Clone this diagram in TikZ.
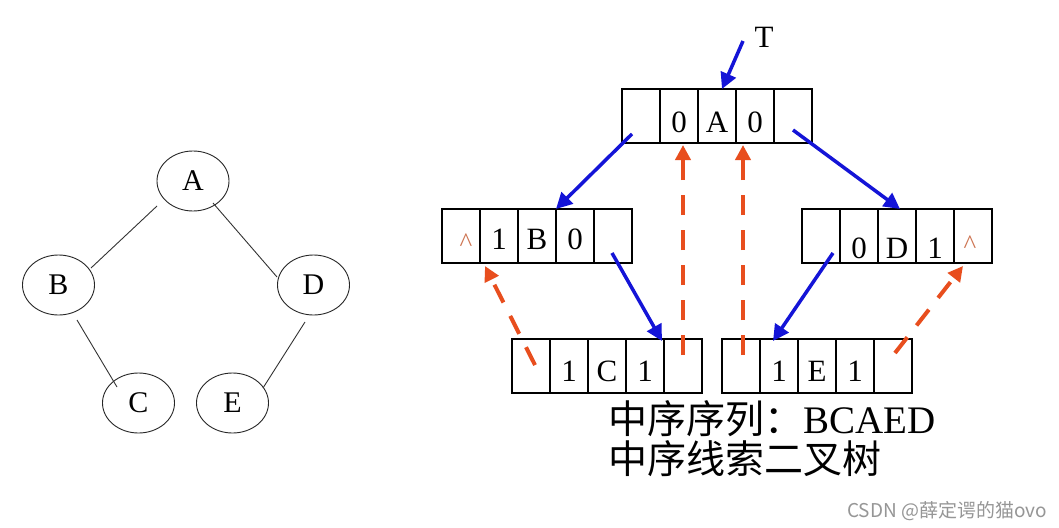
\documentclass[tikz,border=0pt]{standalone}
\usepackage{fontspec}
\setmainfont{Liberation Serif}
\newfontfamily\cjk{Noto Sans CJK SC}
\usetikzlibrary{shapes.geometric,arrows.meta,calc}
\definecolor{ablue}{RGB}{20,20,215}
\definecolor{ared}{RGB}{232,78,30}
\definecolor{acaret}{RGB}{205,115,80}
\definecolor{wmgray}{RGB}{150,150,150}
\begin{document}
\begin{tikzpicture}[x=1pt,y=-1pt,
  every node/.style={inner sep=0pt, outer sep=0pt},
  treenode/.style={draw=black!85, line width=0.9pt, ellipse, minimum width=72pt, minimum height=60pt, font=\fontsize{30}{30}\selectfont},
  treeedge/.style={draw=black!80, line width=0.9pt},
  cell/.style={draw, line width=1.1pt, minimum width=38pt, minimum height=54pt, font=\fontsize{31}{31}\selectfont, text height=#1, text depth=0pt},
  cell/.default=30pt,
  caret/.style={text=acaret, font=\fontsize{27}{27}\selectfont},
  bluearrow/.style={draw=ablue, line width=3.5pt, -{Triangle[length=16pt,width=16pt]}},
  redarrow/.style={draw=ared, line width=4pt, dash pattern=on 20pt off 15pt, -{Triangle[length=15pt,width=15pt]}}
]
\fill[white] (0,0) rectangle (1059,527);
\useasboundingbox (0,0) rectangle (1059,527);

% left tree
\node[treenode] (TA) at (193,181) {A};
\node[treenode] (TB) at (58.5,285) {B};
\node[treenode] (TD) at (313.5,285) {D};
\node[treenode] (TC) at (138.5,403) {C};
\node[treenode] (TE) at (232.5,403) {E};
\draw[treeedge] ($(TA)+(-36,25)$) -- ($(TB)+(32.5,-17)$);
\draw[treeedge] ($(TA)+(20,22)$) -- ($(TD)+(-36.5,-8)$);
\draw[treeedge] ($(TB)+(18.5,35)$) -- ($(TC)+(-21.5,-16)$);
\draw[treeedge] ($(TD)+(-8.5,37)$) -- ($(TE)+(30.5,-15)$);

% top record
\node[cell=32pt] (A1) at (641,116) {};
\node[cell=32pt] (A2) at (679,116) {0};
\node[cell=32pt] (A3) at (717,116) {A};
\node[cell=32pt] (A4) at (755,116) {0};
\node[cell=32pt] (A5) at (793,116) {};
% B record
\node[cell=26pt] (B1) at (461,236) {};
\node[cell=26pt] (B2) at (499,236) {1};
\node[cell=26pt] (B3) at (537,236) {B};
\node[cell=26pt] (B4) at (575,236) {0};
\node[cell=26pt] (B5) at (613,236) {};
\node[caret] (cB) at (466,243) {\textasciicircum};
% D record
\node[cell=44pt] (D1) at (821,236) {};
\node[cell=44pt] (D2) at (859,236) {0};
\node[cell=44pt] (D3) at (897,236) {D};
\node[cell=44pt] (D4) at (935,236) {1};
\node[cell=44pt] (D5) at (973,236) {};
\node[caret] (cD) at (970,245) {\textasciicircum};
% C record
\node[cell=31pt] (C1) at (531,366) {};
\node[cell=31pt] (C2) at (569,366) {1};
\node[cell=31pt] (C3) at (607,366) {C};
\node[cell=31pt] (C4) at (645,366) {1};
\node[cell=31pt] (C5) at (683,366) {};
% E record
\node[cell=31pt] (E1) at (741,366) {};
\node[cell=31pt] (E2) at (779,366) {1};
\node[cell=31pt] (E3) at (817,366) {E};
\node[cell=31pt] (E4) at (855,366) {1};
\node[cell=31pt] (E5) at (893,366) {};

% T pointer
\node[font=\fontsize{31}{31}\selectfont] (T) at (764,37) {T};
\coordinate (Tt) at (743,41);
\draw[bluearrow] (Tt) -- ($(A3.north)+(5,0)$);

% child pointers
\draw[bluearrow] ($(A1.center)+(-9,18)$) -- (B3.north east);
\draw[bluearrow] ($(A5.center)+(0,14)$) -- ($(D3.north)+(3,0)$);
\draw[bluearrow] ($(B5.center)+(-1,17)$) -- ($(C4.north east)+(-2,2)$);
\draw[bluearrow] ($(D1.center)+(12,17)$) -- ($(E2.north)+(-6,2)$);

% threads
\draw[redarrow] ($(C1.center)+(4,-1)$) -- ($(B2.south west)+(5,3)$);
\draw[redarrow] ($(C5.center)+(0,-11)$) -- ($(C5.center |- A2.south)+(0,2)$);
\draw[redarrow] ($(E1.center)+(2,-11)$) -- ($(E1.center |- A4.south)+(2,2)$);
\draw[redarrow] ($(E5.center)+(2,-13)$) -- ($(D5.south west)+(9,3)$);

% captions
\node[anchor=base west, font=\fontsize{39}{39}\selectfont] (L1) at (608,433) {{\cjk 中序序列：}BCAED};
\node[anchor=base west, font=\cjk\fontsize{39}{39}\selectfont] (L2) at (608,473) {中序线索二叉树};
\node[anchor=base east, font=\cjk\fontsize{19}{19}\selectfont, text=wmgray] (wm) at (1047,517) {CSDN @薛定谔的猫ovo};
\end{tikzpicture}
\end{document}
